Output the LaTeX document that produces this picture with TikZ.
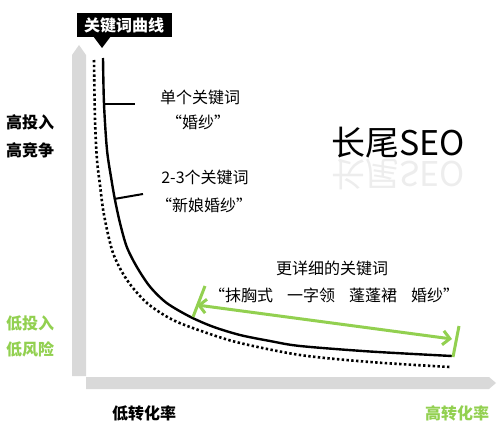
\documentclass[tikz,border=0pt]{standalone}
\usepackage{fontspec}
\setmainfont{Noto Sans CJK SC}
\usetikzlibrary{arrows.meta}
\definecolor{axisgray}{HTML}{D9D9D9}
\definecolor{kgreen}{HTML}{92D050}
\tikzset{
  lbl/.style={inner sep=0pt, font=\fontsize{16pt}{18pt}\selectfont},
  boldlbl/.style={lbl, font=\fontsize{16pt}{18pt}\selectfont\bfseries},
  curvesolid/.style={draw=black, line width=2.4pt},
  curvedot/.style={draw=black, line width=2.6pt, dash pattern=on 2.4pt off 2.4pt},
  tickline/.style={draw=black, line width=2pt},
  greenline/.style={draw=kgreen, line width=3pt},
}
\begin{document}
\begin{tikzpicture}[x=1pt,y=-1pt]
\useasboundingbox (0,0) rectangle (500,428);
% axes
\fill[axisgray] (72,376) -- (72,55) -- (79,45) -- (86,55) -- (86,376) -- cycle;
\fill[axisgray] (86,377) -- (489,377) -- (496,383) -- (489,389) -- (86,389) -- cycle;
% title box
\node[fill=black, text=white, font=\fontsize{16pt}{18pt}\selectfont\bfseries,
      minimum width=95pt, minimum height=24pt, inner sep=0pt] (title) at (124,25) {关键词曲线};
\fill[black] (93,36) -- (102,48) -- (111,36) -- cycle;
% curves
\draw[curvedot] plot[smooth] coordinates {(94,60) (95,120) (97,160) (100,185) (104,215) (113,253) (127,280) (147,303) (173,320) (207,333) (240,343) (300,355) (370,362) (450,367)};
\draw[curvesolid] plot[smooth] coordinates {(103,58) (104,104) (107,150) (111.5,180) (115,200) (120,223) (126.7,246.7) (136.7,266.7) (150,286.7) (166.7,303) (190,316.7) (213,326.7) (240,335) (270,341) (300,346) (370,351.5) (452,356)};
% ticks
\coordinate (t1a) at (104,104); \coordinate (t1b) at (135,104);
\coordinate (t2a) at (114,199); \coordinate (t2b) at (143,194);
\draw[tickline] (t1a) -- (t1b);
\draw[tickline] (t2a) -- (t2b);
% green range
\coordinate (gla) at (193,317); \coordinate (glb) at (205,286);
\coordinate (gra) at (453,357); \coordinate (grb) at (459,326);
\coordinate (ga) at (197,305); \coordinate (gb) at (452,339);
\draw[greenline] (gla) -- (glb);
\draw[greenline] (gra) -- (grb);
\draw[greenline, {Straight Barb[length=7pt,width=14pt]}-{Straight Barb[length=7pt,width=14pt]}] (ga) -- (gb);
% labels
\node[lbl] (k1) at (200,97) {单个关键词};
\node[lbl] (k1q) at (198,122) {“婚纱”};
\node[lbl] (k2) at (205,177) {2-3个关键词};
\node[lbl] (k2q) at (204,205) {“新娘婚纱”};
\node[lbl] (k3) at (332,268) {更详细的关键词};
\node[lbl] (k3q) at (337,295) {\hspace{-6pt}“抹胸式\hspace{14pt}一字领\hspace{14pt}蓬蓬裙\hspace{14pt}婚纱”\hspace{-6pt}};
\node[boldlbl] (hi1) at (30,122) {高投入};
\node[boldlbl] (hi2) at (30,150) {高竞争};
\node[boldlbl, text=kgreen] (lo1) at (30,323) {低投入};
\node[boldlbl, text=kgreen] (lo2) at (30,349) {低风险};
\node[boldlbl] (xlo) at (144,413) {低转化率};
\node[boldlbl, text=kgreen] (xhi) at (457,413) {高转化率};
% big title with reflection
\node[inner sep=0pt, font=\fontsize{34pt}{38pt}\selectfont] (seo) at (398,143) {长尾SEO};
\node[inner sep=0pt, font=\fontsize{34pt}{38pt}\selectfont, text=black!7, yscale=-1] (seoref) at (398,174) {长尾SEO};
\end{tikzpicture}
\end{document}
